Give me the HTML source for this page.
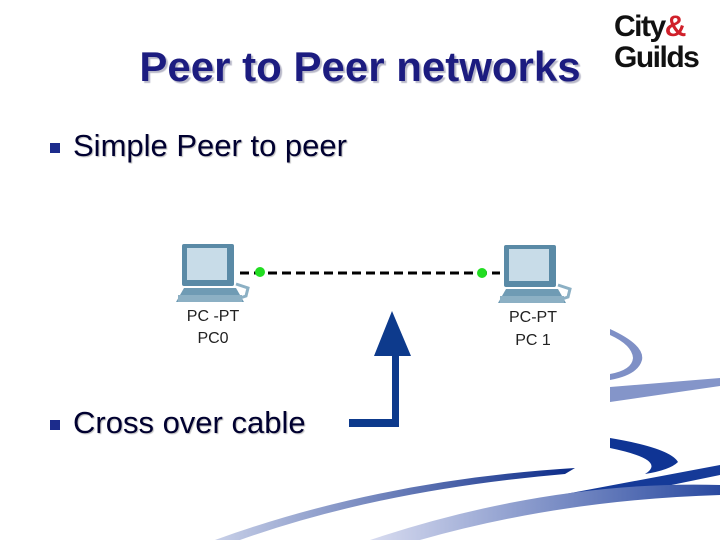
<!DOCTYPE html>
<html><head><style>
body{margin:0;width:720px;height:540px;overflow:hidden;background:#fff;position:relative;font-family:"Liberation Sans",sans-serif}
.t{position:absolute;left:130px;top:43px;width:460px;text-align:center;font-size:42px;font-weight:bold;color:#1c1c80;text-shadow:2px 2px 1px #b8b8c8;white-space:nowrap}
.b{position:absolute;font-size:31px;color:#000030;text-shadow:1px 1px 1px #bbb;white-space:nowrap}
.sq{position:absolute;width:10px;height:10px;background:#1c2c8c}
.logo{position:absolute;left:614px;font-weight:bold;font-size:30px;color:#111;letter-spacing:-1.5px}
</style></head><body>
<svg width="720" height="540" style="position:absolute;left:0;top:0">
<defs>
<linearGradient id="g1" x1="0" x2="1"><stop offset="0" stop-color="#c8d0e8"/><stop offset="1" stop-color="#0a2a88"/></linearGradient>
<linearGradient id="g2" x1="0" x2="1"><stop offset="0" stop-color="#d8dcf0"/><stop offset="1" stop-color="#2a4aa0"/></linearGradient>
</defs>
<path d="M610 329 Q645 345 642 360 Q638 375 610 380 L610 374 Q632 370 633 358 Q632 345 610 335Z" fill="#7f90c6"/>
<path d="M610 387 L720 378 L720 386 L610 402Z" fill="#8495c9"/>
<path d="M610 438 Q670 448 678 462 Q670 470 645 474 Q668 460 610 448Z" fill="#0f3494"/>
<path d="M560 495 L720 465 L720 475 L560 508Z" fill="#153a98"/>
<path d="M215 540 Q380 480 575 468 L565 474 Q380 490 240 540Z" fill="url(#g1)"/>
<path d="M370 540 Q550 480 720 485 L720 495 Q560 500 420 540Z" fill="url(#g2)"/>
<line x1="240" y1="273" x2="500" y2="273" stroke="#000" stroke-width="3" stroke-dasharray="9,5"/>
<circle cx="260" cy="272" r="5" fill="#22dd22"/>
<circle cx="482" cy="273" r="5" fill="#22dd22"/>
<g id="pc">
<rect x="182" y="244" width="52" height="42" rx="2" fill="#5a8aa6"/>
<rect x="187" y="248" width="40" height="32" fill="#c8dce8"/>
<path d="M184 288 L236 288 L244 302 L176 302Z" fill="#6f9bb4"/>
<rect x="178" y="295" width="64" height="7" fill="#8cb0c4"/>
<path d="M236 284 L248 288 L246 296 L240 298" stroke="#8cb0c4" stroke-width="3" fill="none"/>
</g>
<use href="#pc" x="322" y="1"/>
<polygon points="392,311 374,356 411,356" fill="#0d3a8c"/>
<rect x="392" y="355" width="7" height="72" fill="#0d3a8c"/>
<rect x="349" y="419" width="50" height="8" fill="#0d3a8c"/>
</svg>
<div class="t">Peer to Peer networks</div>
<div class="sq" style="left:50px;top:143px"></div>
<div class="b" style="left:73px;top:128px">Simple Peer to peer</div>
<div class="sq" style="left:50px;top:420px"></div>
<div class="b" style="left:73px;top:405px">Cross over cable</div>
<div style="position:absolute;left:185px;top:306px;font-size:16px;color:#222;width:56px;text-align:center;line-height:22px">PC -PT<br>PC0</div>
<div style="position:absolute;left:504px;top:306px;font-size:16px;color:#222;width:58px;text-align:center;line-height:23px">PC-PT<br>PC 1</div>
<div class="logo" style="top:10px">City<span style="color:#d0202a">&amp;</span></div>
<div class="logo" style="top:41px">Guilds</div>
</body></html>
